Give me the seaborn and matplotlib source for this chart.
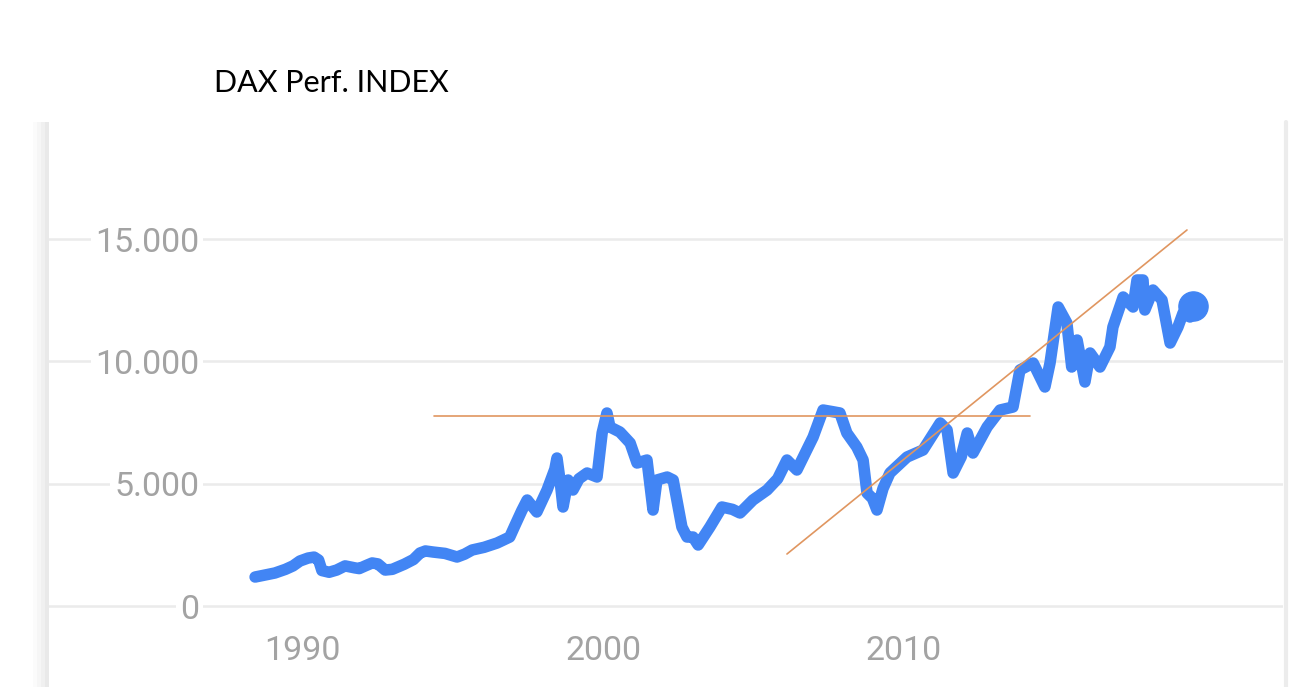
import matplotlib
matplotlib.use("Agg")
import matplotlib.pyplot as plt
import matplotlib.ticker as mticker
from matplotlib.patches import Rectangle
from matplotlib.lines import Line2D
import seaborn as sns
import pandas as pd

sns.set_style("white")
plt.rcParams['font.family'] = ['Roboto', 'DejaVu Sans']

# DAX index (decimal year, points)
years = [
    1988.44, 1988.77, 1989.10, 1989.45, 1989.70, 1989.93, 1990.20, 1990.40,
    1990.55, 1990.66, 1990.90, 1991.15, 1991.43, 1991.75, 1991.90, 1992.10,
    1992.33, 1992.52, 1992.76, 1993.00, 1993.40, 1993.70, 1993.92, 1994.10,
    1994.35, 1994.75, 1995.15, 1995.40, 1995.65, 1996.05, 1996.48, 1996.90,
    1997.08, 1997.30, 1997.48, 1997.80, 1998.14, 1998.40, 1998.47, 1998.57,
    1998.67, 1998.84, 1999.00, 1999.20, 1999.47, 1999.80, 1999.97, 2000.13,
    2000.23, 2000.56, 2000.90, 2001.13, 2001.46, 2001.66, 2001.79, 2002.13,
    2002.33, 2002.62, 2002.79, 2002.99, 2003.16, 2003.55, 2003.95, 2004.30,
    2004.55, 2004.98, 2005.45, 2005.80, 2006.11, 2006.44, 2006.98, 2007.31,
    2007.60, 2007.87, 2008.10, 2008.43, 2008.64, 2008.77, 2008.95, 2009.10,
    2009.30, 2009.53, 2010.10, 2010.63, 2011.20, 2011.43, 2011.63, 2011.90,
    2012.10, 2012.29, 2012.76, 2013.19, 2013.62, 2013.85, 2014.29, 2014.68,
    2014.85, 2015.12, 2015.41, 2015.57, 2015.75, 2016.01, 2016.18, 2016.51,
    2016.84, 2016.94, 2017.28, 2017.61, 2017.74, 2017.94, 2018.00, 2018.27,
    2018.57, 2018.84, 2019.10, 2019.27, 2019.50, 2019.60,
]
dax = [
    1185, 1267, 1350, 1500, 1640, 1840, 1960, 2000,
    1880, 1450, 1380, 1470, 1640, 1560, 1530, 1640,
    1760, 1720, 1470, 1500, 1710, 1900, 2167, 2250,
    2207, 2150, 2003, 2120, 2289, 2400, 2575, 2820,
    3311, 3900, 4333, 3843, 4742, 5600, 6050, 5150,
    4047, 5150, 4742, 5200, 5437, 5273, 7072, 7890,
    7318, 7113, 6663, 5846, 5968, 3924, 5150, 5273,
    5150, 3229, 2820, 2820, 2494, 3229, 4047, 3950,
    3802, 4333, 4742, 5200, 5968, 5560, 6909, 8012,
    7950, 7890, 7072, 6500, 5968, 4620, 4400, 3924,
    4800, 5437, 6091, 6377, 7481, 7195, 5437, 6100,
    7072, 6254, 7318, 8012, 8135, 9648, 9934, 8953,
    9934, 12223, 11569, 9770, 10874, 9157, 10343, 9770,
    10588, 11406, 12632, 12223, 13327, 13327, 12101, 12918,
    12510, 10751, 11406, 11978, 11814, 12264,
]

# hand-drawn trend lines (resistance and rising support)
resist_x = [1994.39, 2014.19]
resist_y = [7768, 7768]
trend_x = [2006.11, 2019.40]
trend_y = [2126, 15372]

x_ticks = [1990, 2000, 2010]
y_ticks = [0, 5000, 10000, 15000]

df = pd.DataFrame({"year": years, "dax": dax})

fig = plt.figure(figsize=(12.89, 6.87), dpi=100)
ax = fig.add_axes([48 / 1289, 1 - 610 / 687, (1283 - 48) / 1289, (610 - 122) / 687])

sns.lineplot(data=df, x="year", y="dax", ax=ax, color="#4285f4", linewidth=8.3,
             estimator=None, sort=False, solid_capstyle="round", solid_joinstyle="round")
ax.plot(years[-1], dax[-1], "o", color="#4285f4", markersize=21)

ax.plot(resist_x, resist_y, color="#e09660", linewidth=1.2)
ax.plot(trend_x, trend_y, color="#e09660", linewidth=1.2)

ax.set_xlim(1981.56, 2022.59)
ax.set_ylim(-163, 19786)
ax.set_xticks(x_ticks)
ax.set_yticks(y_ticks)
ax.yaxis.set_major_formatter(mticker.FuncFormatter(lambda v, p: f"{v:,.0f}".replace(",", ".")))
ax.set_xlabel("")
ax.set_ylabel("")

ax.grid(axis="y", color="#ebebeb", linewidth=1.8)
ax.set_axisbelow(True)
for s in ax.spines.values():
    s.set_visible(False)

ax.tick_params(axis="y", length=0, pad=-109, labelsize=24.5, labelcolor="#a3a3a3")
for lbl in ax.get_yticklabels():
    lbl.set_horizontalalignment("right")
    lbl.set_bbox(dict(facecolor="white", edgecolor="none", pad=3))
ax.tick_params(axis="x", direction="out", length=12, width=1.5, color="#e3e3e3",
               pad=6, labelsize=24.5, labelcolor="#a3a3a3")

# card edges of the screenshot
for i, c in enumerate(["#fbfbfb", "#f6f6f6", "#f0f0f0", "#e9e9e9"]):
    fig.add_artist(Rectangle((33 / 1289 + i * 4 / 1289, 0), 4 / 1289, 1 - 122 / 687,
                             transform=fig.transFigure, facecolor=c, edgecolor="none"))
fig.add_artist(Line2D([1286 / 1289, 1286 / 1289], [0, 1 - 122 / 687],
                      transform=fig.transFigure, color="#ececec", linewidth=3))

fig.text(214 / 1289, 1 - 92 / 687, "DAX Perf. INDEX", fontsize=22,
         family=["Lato", "DejaVu Sans"], color="black", va="baseline", ha="left")

fig.savefig("out.png", dpi=100)
